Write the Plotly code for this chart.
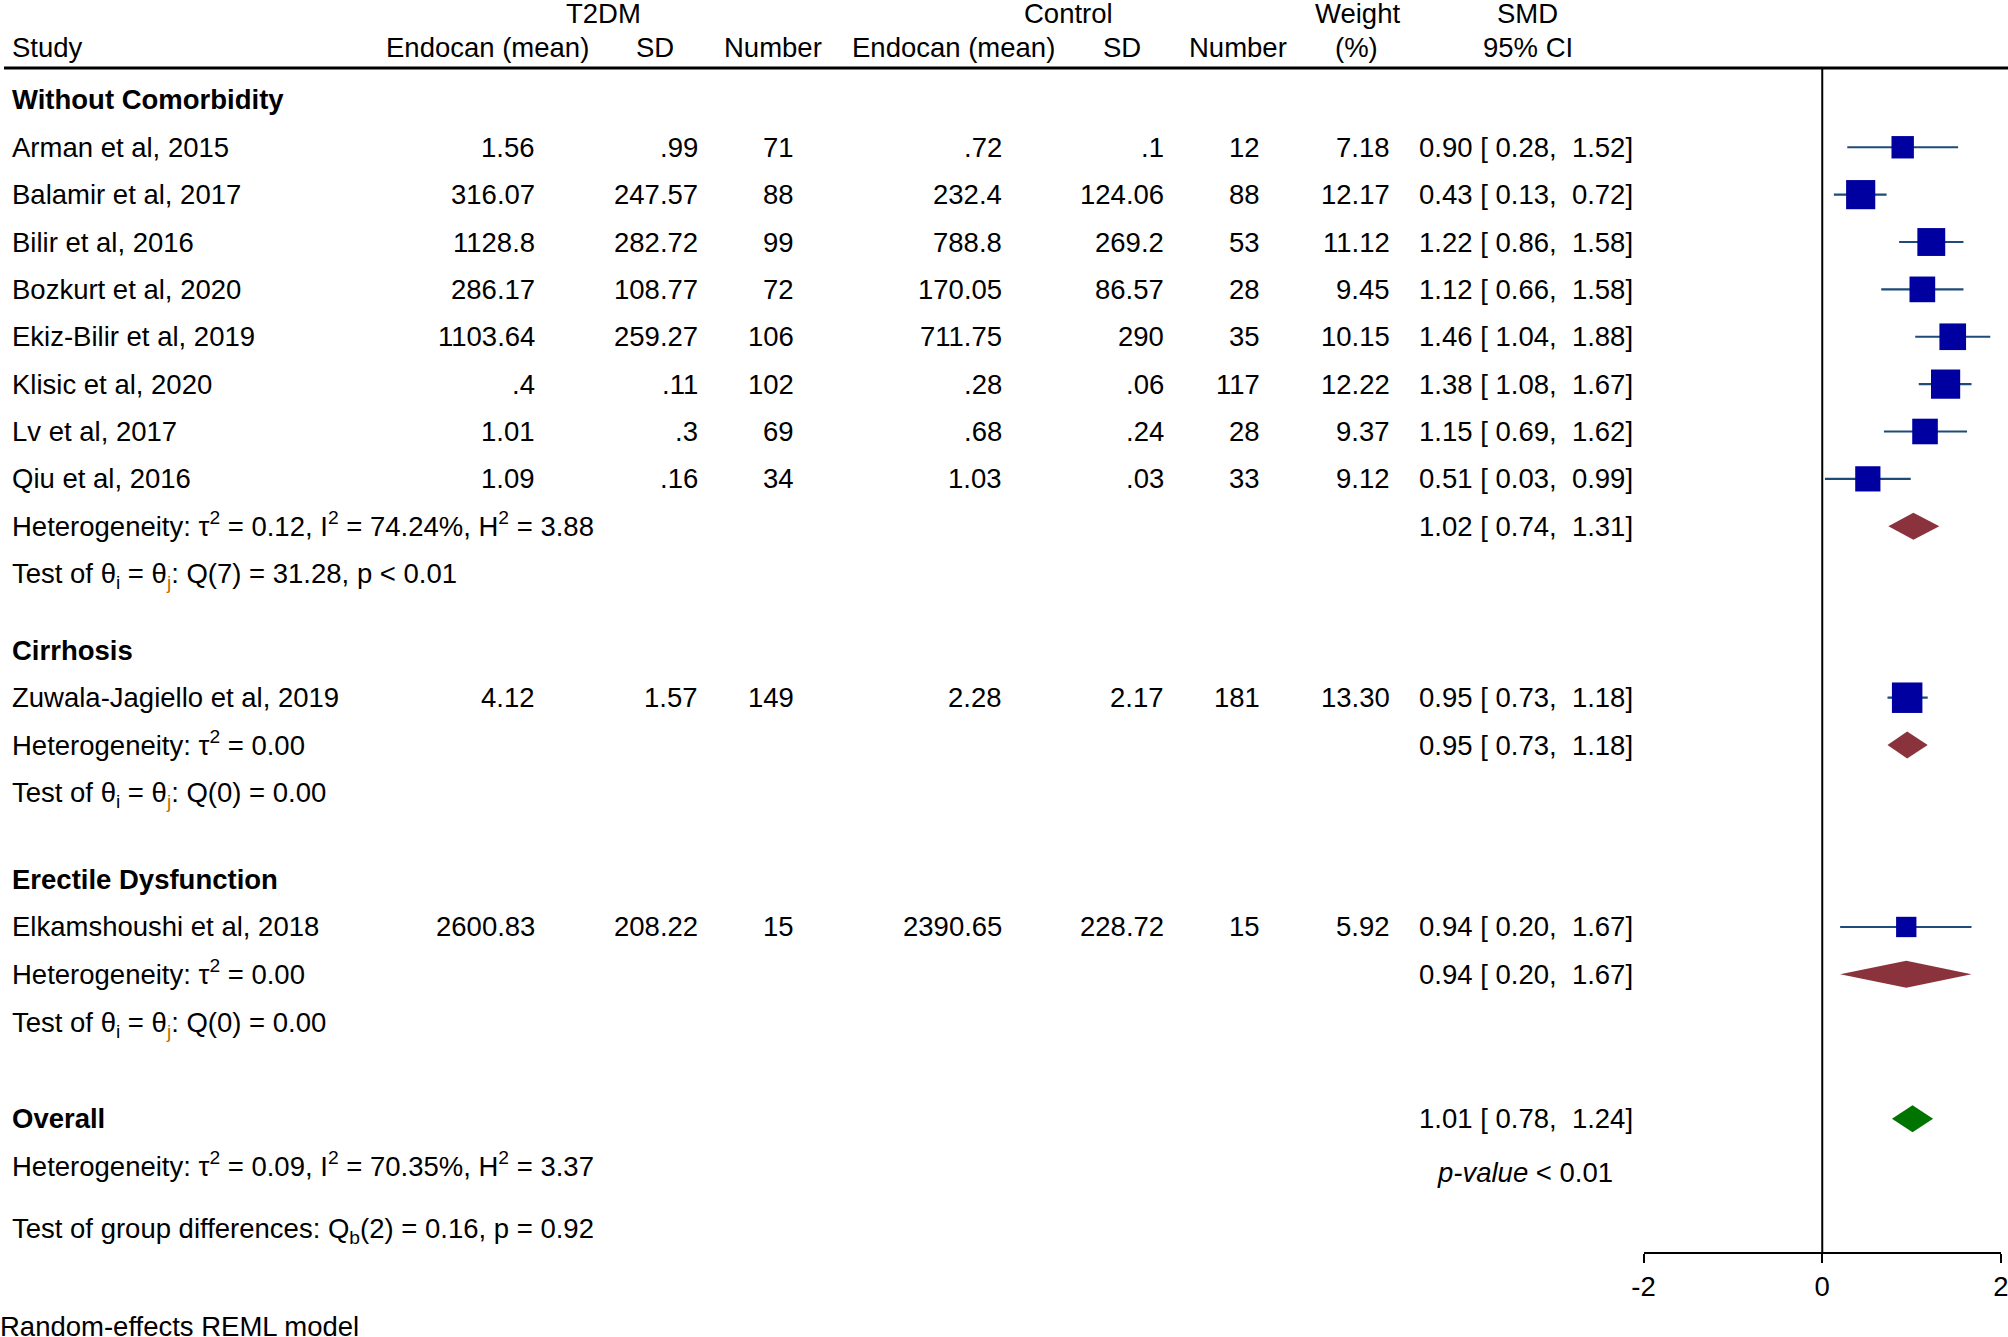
import math
import plotly.graph_objects as go

# ---------------- data ----------------
studies = ["Arman et al, 2015", "Balamir et al, 2017", "Bilir et al, 2016", "Bozkurt et al, 2020",
           "Ekiz-Bilir et al, 2019", "Klisic et al, 2020", "Lv et al, 2017", "Qiu et al, 2016",
           "Zuwala-Jagiello et al, 2019", "Elkamshoushi et al, 2018"]
study_group = [0, 0, 0, 0, 0, 0, 0, 0, 1, 2]
t2dm_mean = [1.56, 316.07, 1128.8, 286.17, 1103.64, 0.4, 1.01, 1.09, 4.12, 2600.83]
t2dm_sd = [0.99, 247.57, 282.72, 108.77, 259.27, 0.11, 0.3, 0.16, 1.57, 208.22]
t2dm_n = [71, 88, 99, 72, 106, 102, 69, 34, 149, 15]
ctrl_mean = [0.72, 232.4, 788.8, 170.05, 711.75, 0.28, 0.68, 1.03, 2.28, 2390.65]
ctrl_sd = [0.1, 124.06, 269.2, 86.57, 290, 0.06, 0.24, 0.03, 2.17, 228.72]
ctrl_n = [12, 88, 53, 28, 35, 117, 28, 33, 181, 15]
weight = [7.18, 12.17, 11.12, 9.45, 10.15, 12.22, 9.37, 9.12, 13.30, 5.92]
smd = [0.90, 0.43, 1.22, 1.12, 1.46, 1.38, 1.15, 0.51, 0.95, 0.94]
ci_low = [0.28, 0.13, 0.86, 0.66, 1.04, 1.08, 0.69, 0.03, 0.73, 0.20]
ci_high = [1.52, 0.72, 1.58, 1.58, 1.88, 1.67, 1.62, 0.99, 1.18, 1.67]

groups = ["Without Comorbidity", "Cirrhosis", "Erectile Dysfunction"]
group_smd = [1.02, 0.95, 0.94]
group_low = [0.74, 0.73, 0.20]
group_high = [1.31, 1.18, 1.67]
group_tau2 = [0.12, 0.00, 0.00]
group_I2 = [74.24, None, None]
group_H2 = [3.88, None, None]
group_Q = [31.28, 0.00, 0.00]
group_df = [7, 0, 0]
group_p = ["< 0.01", None, None]

overall_smd, overall_low, overall_high = 1.01, 0.78, 1.24
overall_tau2, overall_I2, overall_H2 = 0.09, 70.35, 3.37
overall_Qb, overall_Qb_df, overall_Qb_p = 0.16, 2, 0.92
overall_pvalue = "< 0.01"

x_ticks = [-2, 0, 2]
x_ticktext = ["-2", "0", "2"]

# ---------------- layout constants ----------------
W, H = 2008, 1337
FS = 27.5
FONT = "Liberation Sans, Arial, sans-serif"
ROW_PX = 47.37
ROW0_Y = 99.9                        # screen y of first row
GROUP_GAP = [0.0, 1.62, 1.84]
OVERALL_GAP = 2.05
SUB_SHIFT = 0.05                     # rows containing subscripts
SUP_SHIFT = -0.03                    # rows containing superscripts
DIAMOND_H = 0.285
SQ_K = 8.36
BLUE = "#0000a0"
CI_COL = "#1e4b78"
MAROON = "#8b333c"
GREEN = "#007400"

Y_TOP_PX, Y_AXIS_PX = 68, 1252
def row_of_px(y):
    return (y - ROW0_Y) / ROW_PX
def paper_y(y):
    return 1 - y / H
r_top, r_bot = row_of_px(Y_TOP_PX), row_of_px(Y_AXIS_PX)
dom_top = paper_y(Y_TOP_PX)
dom_bot = paper_y(Y_AXIS_PX)

def fmt(v):
    s = f"{v:g}"
    if s.startswith("0."):
        s = s[1:]
    return s

def fmt_ci(e, lo, hi):
    return f"{e:.2f} [&nbsp;{lo:.2f},&nbsp;&nbsp;{hi:.2f}]"

ann = []
def txt(xpx, row, s, anchor="left", bold=False, color="black", yref="y"):
    if bold:
        s = f"<b>{s}</b>"
    ann.append(dict(xref="paper", x=max(0.0, xpx / W), yref=yref, y=row, text=s,
                    xanchor=anchor, yanchor="middle", showarrow=False,
                    borderpad=0, borderwidth=0,
                    font=dict(family=FONT, size=FS, color=color)))

X_STUDY = 12
X_COLS = [535, 698, 794, 1001.5, 1164, 1260, 1389.5]
X_CI = 1419

# header (paper-referenced, outside the row axis)
hr1, hr2 = paper_y(13), paper_y(47)
txt(603, hr1, "T2DM", "center", yref="paper")
txt(1068, hr1, "Control", "center", yref="paper")
txt(1357, hr1, "Weight", "center", yref="paper")
txt(1527, hr1, "SMD", "center", yref="paper")
txt(X_STUDY, hr2, "Study", yref="paper")
txt(589, hr2, "Endocan (mean)", "right", yref="paper")
txt(655, hr2, "SD", "center", yref="paper")
txt(773, hr2, "Number", "center", yref="paper")
txt(1055, hr2, "Endocan (mean)", "right", yref="paper")
txt(1122, hr2, "SD", "center", yref="paper")
txt(1238, hr2, "Number", "center", yref="paper")
txt(1356, hr2, "(%)", "center", yref="paper")
txt(1528, hr2, "95% CI", "center", yref="paper")

theta = "θ<sub>i</sub> = θ<sub><span style='color:#c07000'>j</span></sub>"

study_rows = [None] * len(studies)
group_sum_rows = []
pos = 0.0
for g, gname in enumerate(groups):
    pos += GROUP_GAP[g]
    txt(X_STUDY, pos, gname, bold=True)
    for i in range(len(studies)):
        if study_group[i] != g:
            continue
        pos += 1
        study_rows[i] = pos
        txt(X_STUDY, pos, studies[i])
        vals = [fmt(t2dm_mean[i]), fmt(t2dm_sd[i]), str(t2dm_n[i]), fmt(ctrl_mean[i]),
                fmt(ctrl_sd[i]), str(ctrl_n[i]), f"{weight[i]:.2f}"]
        for xc, v in zip(X_COLS, vals):
            txt(xc, pos, v, "right")
        txt(X_CI, pos, fmt_ci(smd[i], ci_low[i], ci_high[i]))
    pos += 1
    group_sum_rows.append(pos)
    het = f"Heterogeneity: τ<sup>2</sup> = {group_tau2[g]:.2f}"
    if group_I2[g] is not None:
        het += f", I<sup>2</sup> = {group_I2[g]:.2f}%, H<sup>2</sup> = {group_H2[g]:.2f}"
    txt(X_STUDY, pos + SUP_SHIFT, het)
    txt(X_CI, pos, fmt_ci(group_smd[g], group_low[g], group_high[g]))
    pos += 1
    test = f"Test of {theta}: Q({group_df[g]}) = {group_Q[g]:.2f}"
    if group_p[g] is not None:
        test += ", p " + group_p[g].replace("<", "&lt;")
    txt(X_STUDY, pos + SUB_SHIFT, test)

pos += OVERALL_GAP
overall_row = pos
txt(X_STUDY, pos, "Overall", bold=True)
txt(X_CI, pos, fmt_ci(overall_smd, overall_low, overall_high))
pos += 1
txt(X_STUDY, pos + SUP_SHIFT, f"Heterogeneity: τ<sup>2</sup> = {overall_tau2:.2f}, I<sup>2</sup> = {overall_I2:.2f}%, H<sup>2</sup> = {overall_H2:.2f}")
txt(1525, pos + 0.14, "<i>p-value</i> " + overall_pvalue.replace("<", "&lt;"), "center")
pos += 1.30
txt(X_STUDY, pos + SUB_SHIFT, f"Test of group differences: Q<sub>b</sub>({overall_Qb_df}) = {overall_Qb:.2f}, p = {overall_Qb_p:.2f}")
txt(0, paper_y(1326), "Random-effects REML model", yref="paper")

# ---------------- traces ----------------
fig = go.Figure()
fig.add_trace(go.Scatter(
    x=smd, y=study_rows, mode="markers",
    marker=dict(symbol="square", size=[SQ_K * math.sqrt(w) for w in weight], color=BLUE,
                opacity=1, line=dict(width=0)),
    error_x=dict(type="data", symmetric=False,
                 array=[h - e for h, e in zip(ci_high, smd)],
                 arrayminus=[e - l for e, l in zip(smd, ci_low)],
                 width=0, thickness=2.2, color=CI_COL),
    cliponaxis=False, showlegend=False, hoverinfo="skip"))

def diamond(est, lo, hi, row, color):
    fig.add_trace(go.Scatter(
        x=[lo, est, hi, est, lo], y=[row, row - DIAMOND_H, row, row + DIAMOND_H, row],
        mode="lines", fill="toself", fillcolor=color, line=dict(width=0, color=color),
        showlegend=False, hoverinfo="skip", cliponaxis=False))

for g in range(len(groups)):
    diamond(group_smd[g], group_low[g], group_high[g], group_sum_rows[g], MAROON)
diamond(overall_smd, overall_low, overall_high, overall_row, GREEN)

shapes = [
    dict(type="line", xref="paper", yref="paper", x0=0.002, x1=1, y0=dom_top, y1=dom_top,
         line=dict(color="black", width=3)),
    dict(type="line", xref="x", yref="paper", x0=0, x1=0, y0=dom_bot, y1=dom_top,
         line=dict(color="black", width=2)),
]

fig.update_layout(
    width=W, height=H, margin=dict(l=0, r=0, t=0, b=0, pad=0, autoexpand=False),
    paper_bgcolor="white", plot_bgcolor="white",
    font=dict(family=FONT, size=FS, color="black"),
    xaxis=dict(domain=[1643.5 / W, 2001 / W], range=[-2, 2], tickvals=x_ticks, ticktext=x_ticktext,
               showline=True, linecolor="black", linewidth=2, ticks="outside", ticklen=9,
               tickwidth=2, tickcolor="black", showgrid=False, zeroline=False,
               ticklabeloverflow="allow", automargin=False,
               tickfont=dict(family=FONT, size=FS, color="black"), fixedrange=True),
    yaxis=dict(domain=[dom_bot, dom_top], range=[r_bot, r_top], visible=False,
               showgrid=False, zeroline=False, fixedrange=True, automargin=False),
    annotations=ann, shapes=shapes, showlegend=False,
)

fig.write_html("out.html", config={"displayModeBar": False},
               post_script="document.body.style.margin='0px';")
